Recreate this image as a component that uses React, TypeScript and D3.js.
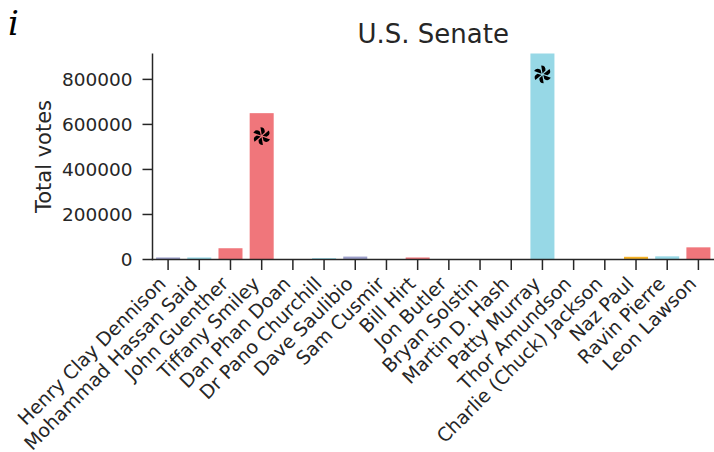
import React from "react";
import * as d3 from "d3";

// Candidates in ballot order, with total votes and party colour group
const candidates = [
  "Henry Clay Dennison",
  "Mohammad Hassan Said",
  "John Guenther",
  "Tiffany Smiley",
  "Dan Phan Doan",
  "Dr Pano Churchill",
  "Dave Saulibio",
  "Sam Cusmir",
  "Bill Hirt",
  "Jon Butler",
  "Bryan Solstin",
  "Martin D. Hash",
  "Patty Murray",
  "Thor Amundson",
  "Charlie (Chuck) Jackson",
  "Naz Paul",
  "Ravin Pierre",
  "Leon Lawson",
];
const votes = [
  9000, 9000, 50000, 650000, 800, 6000, 13000, 800, 9000, 800, 800, 800,
  975000, 800, 800, 12000, 14000, 54000,
];
const parties = [
  "other", "dem", "rep", "rep", "rep", "dem", "other", "dem", "rep",
  "ind", "dem", "ind", "dem", "ind", "ind", "ind", "dem", "rep",
];
// Candidates advancing to the general election
const advanced = ["Tiffany Smiley", "Patty Murray"];
const yTicks = [0, 200000, 400000, 600000, 800000];
const yMax = 915000;

const partyColor: Record<string, string> = {
  dem: "#97d8e6",
  rep: "#f0767b",
  other: "#9c9fca",
  ind: "#f6b226",
};

const W = 714;
const H = 452;
const left = 152.5;
const right = 714;
const top = 53.5;
const bottom = 259.5;
const ink = "#262626";
const font = "'DejaVu Sans', sans-serif";

// Six-bladed pinwheel marker
function pinwheel(cx: number, cy: number, r: number): string {
  const pt = (rad: number, deg: number) => {
    const a = (deg * Math.PI) / 180;
    return [cx + rad * Math.cos(a), cy + rad * Math.sin(a)];
  };
  let d = "";
  for (let i = 0; i < 6; i++) {
    const t = i * 60 - 90;
    const p0 = pt(r * 0.12, t + 5);
    const p1 = pt(r, t - 8);
    const p2 = pt(r * 1.05, t + 22);
    const p3 = pt(r * 0.55, t + 38);
    d += `M${p0[0]},${p0[1]}L${p1[0]},${p1[1]}Q${p2[0]},${p2[1]} ${p3[0]},${p3[1]}Z`;
  }
  return d;
}

export default function App() {
  const x = d3
    .scaleBand<string>()
    .domain(candidates)
    .range([left, right])
    .paddingInner(0.23)
    .paddingOuter(0.115);
  const y = d3.scaleLinear().domain([0, yMax]).range([bottom, top]);

  return (
    <svg
      width={W}
      height={H}
      style={{ position: "absolute", left: 0, top: 0, display: "block", background: "#fff" }}
    >
      <defs>
        <clipPath id="plotArea">
          <rect x={left} y={top} width={right - left} height={bottom - top} />
        </clipPath>
      </defs>

      <text x={8} y={35} fontFamily="'DejaVu Serif', serif" fontStyle="italic" fontSize={34} fill="#000">
        i
      </text>

      <text x={(left + right) / 2} y={43} textAnchor="middle" fontFamily={font} fontSize={26} fill={ink}>
        U.S. Senate
      </text>

      <g clipPath="url(#plotArea)">
        {candidates.map((c, i) => (
          <rect
            key={c}
            x={x(c)!}
            y={y(votes[i])}
            width={x.bandwidth()}
            height={bottom - y(votes[i])}
            fill={partyColor[parties[i]]}
          />
        ))}
        {candidates.map((c, i) =>
          advanced.includes(c) ? (
            <path
              key={"m" + c}
              d={pinwheel(x(c)! + x.bandwidth() / 2, y(votes[i] * 0.843), 9)}
              fill="#000"
            />
          ) : null
        )}
      </g>

      {/* y axis */}
      <line x1={left} x2={left} y1={top} y2={bottom + 0.75} stroke={ink} strokeWidth={1.5} />
      {yTicks.map((t) => (
        <g key={t} transform={`translate(0,${y(t)})`}>
          <line x1={left - 10} x2={left} stroke={ink} strokeWidth={1.5} />
          <text x={left - 20} dy="0.35em" textAnchor="end" fontFamily={font} fontSize={18.5} fill={ink}>
            {t}
          </text>
        </g>
      ))}
      <text
        transform={`translate(51,${(top + bottom) / 2}) rotate(-90)`}
        textAnchor="middle"
        fontFamily={font}
        fontSize={21}
        fill={ink}
      >
        Total votes
      </text>

      {/* x axis */}
      <line x1={left - 0.75} x2={right} y1={bottom} y2={bottom} stroke={ink} strokeWidth={1.5} />
      {candidates.map((c) => {
        const cx = x(c)! + x.bandwidth() / 2;
        return (
          <g key={"t" + c}>
            <line x1={cx} x2={cx} y1={bottom} y2={bottom + 10.5} stroke={ink} strokeWidth={1.5} />
            <text
              transform={`translate(${cx - 1},285) rotate(-45)`}
              textAnchor="end"
              fontFamily={font}
              fontSize={19}
              fill={ink}
            >
              {c}
            </text>
          </g>
        );
      })}
    </svg>
  );
}
